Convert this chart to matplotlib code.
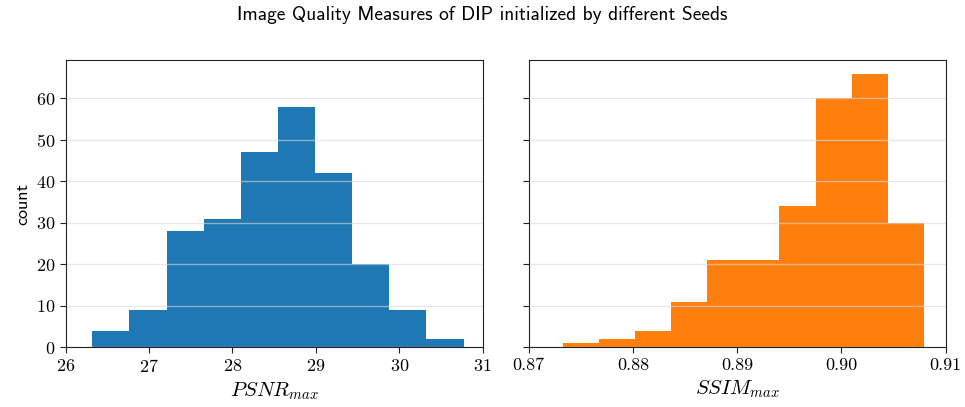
"""Histograms of PSNR / SSIM over DIP runs with different seeds."""
import numpy as np
import matplotlib
matplotlib.use("Agg")
import matplotlib.pyplot as plt

plt.rcParams["mathtext.fontset"] = "cm"
plt.rcParams["axes.formatter.use_mathtext"] = True

# counts per bin, and the bin range, for each metric
psnr_counts = [4, 9, 28, 31, 47, 58, 42, 20, 9, 2]
psnr_range = (26.32, 30.77)
ssim_counts = [1, 2, 4, 11, 21, 21, 34, 60, 66, 30]
ssim_range = (0.8733, 0.9079)

psnr_ticks = [26, 27, 28, 29, 30, 31]
ssim_ticks = [0.87, 0.88, 0.89, 0.90, 0.91]
y_ticks = [0, 10, 20, 30, 40, 50, 60]

fig, (ax1, ax2) = plt.subplots(1, 2, figsize=(9.65, 4.07), dpi=100, sharey=True)
fig.subplots_adjust(left=0.068, right=0.980, bottom=0.147, top=0.853, wspace=0.11)


def draw_hist(ax, counts, rng, color):
    edges = np.linspace(rng[0], rng[1], len(counts) + 1)
    ax.hist(edges[:-1], bins=edges, weights=counts, color=color,
            linewidth=0, zorder=1)
    ax.grid(axis="y", color="#d9d9d9", linewidth=1.0, alpha=0.6, zorder=2)
    ax.set_axisbelow(False)
    for sp in ax.spines.values():
        sp.set_color("#222222")
        sp.set_zorder(3)
    ax.tick_params(labelsize=13, length=4, color="#222222")
    for lab in ax.get_xticklabels() + ax.get_yticklabels():
        lab.set_fontfamily("cmr10")


ax1.set_xlim(26, 31)
ax1.set_xticks(psnr_ticks)
ax1.set_yticks(y_ticks)
draw_hist(ax1, psnr_counts, psnr_range, "#1f77b4")
ax1.set_xlabel(r"$PSNR_{max}$", fontsize=15)
ax1.set_ylabel("count", fontsize=13, fontfamily="cmss10")

ax2.set_xlim(0.87, 0.91)
ax2.set_xticks(ssim_ticks)
ax2.set_xticklabels([f"{t:.2f}" for t in ssim_ticks])
draw_hist(ax2, ssim_counts, ssim_range, "#ff7f0e")
ax2.set_xlabel(r"$SSIM_{max}$", fontsize=15)

fig.suptitle("Image Quality Measures of DIP initialized by different Seeds",
             fontsize=14, fontfamily="cmss10", y=0.985)

fig.savefig("out.png", dpi=100)
